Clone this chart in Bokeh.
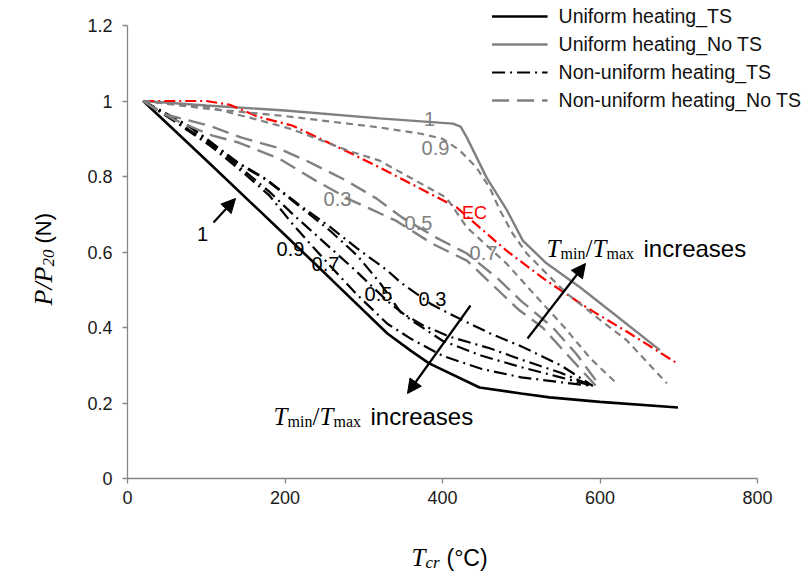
from bokeh.plotting import figure
from bokeh.models import (Range1d, FixedTicker, Label, Arrow, NormalHead,
                          Legend, LegendItem)
from bokeh.embed import file_html
from bokeh.resources import INLINE
import math

# ---------------- data ----------------
# Uniform heating, TS (black solid)
t_uni_ts = [20, 100, 198, 260, 330, 360, 383, 447, 500, 536, 600, 699]
p_uni_ts = [1.0, 0.843, 0.649, 0.525, 0.384, 0.338, 0.305, 0.241, 0.225, 0.215, 0.203, 0.188]

# Uniform heating, No TS (grey solid)
t_uni_nts = [20, 100, 200, 320, 413, 423, 431, 456, 482, 502, 532, 575, 617, 676]
p_uni_nts = [1.0, 0.988, 0.975, 0.954, 0.94, 0.932, 0.903, 0.797, 0.71, 0.63, 0.57, 0.506, 0.437, 0.34]

# EC curve (red dash-dot)
t_ec = [20, 100, 130, 166, 209, 285, 320, 418, 481, 532, 583, 638, 698]
p_ec = [1.0, 1.0, 0.99, 0.958, 0.935, 0.86, 0.824, 0.718, 0.604, 0.524, 0.453, 0.384, 0.305]

# Non-uniform heating, TS (black dash-dot), Tmin/Tmax = 0.9, 0.7, 0.5, 0.3
t_nu_ts_09 = [20, 62, 106, 150, 180, 210, 250, 290, 330, 360, 400, 450, 500, 550, 591]
p_nu_ts_09 = [1.0, 0.943, 0.88, 0.805, 0.75, 0.673, 0.58, 0.49, 0.41, 0.37, 0.325, 0.29, 0.268, 0.255, 0.245]
t_nu_ts_07 = [20, 62, 106, 150, 180, 210, 250, 290, 330, 360, 400, 450, 500, 550, 591]
p_nu_ts_07 = [1.0, 0.946, 0.885, 0.812, 0.76, 0.70, 0.625, 0.55, 0.47, 0.42, 0.365, 0.325, 0.295, 0.268, 0.245]
t_nu_ts_05 = [20, 80, 141, 177, 216, 258, 292, 320, 347, 376, 410, 460, 500, 550, 591]
p_nu_ts_05 = [1.0, 0.93, 0.834, 0.79, 0.725, 0.655, 0.59, 0.52, 0.44, 0.405, 0.375, 0.345, 0.315, 0.28, 0.245]
t_nu_ts_03 = [20, 80, 141, 177, 216, 258, 292, 330, 347, 387, 420, 460, 500, 550, 591]
p_nu_ts_03 = [1.0, 0.932, 0.836, 0.792, 0.728, 0.665, 0.609, 0.551, 0.519, 0.46, 0.425, 0.385, 0.35, 0.30, 0.245]

# Non-uniform heating, No TS (grey dashed), Tmin/Tmax = 0.9, 0.7, 0.5, 0.3
t_nu_nts_09 = [20, 100, 200, 320, 371, 400, 422, 443, 460, 473, 489, 507, 532, 558, 596, 634, 685]
p_nu_nts_09 = [1.0, 0.98, 0.96, 0.93, 0.914, 0.9, 0.869, 0.824, 0.77, 0.71, 0.649, 0.596, 0.543, 0.49, 0.427, 0.366, 0.252]
t_nu_nts_07 = [20, 100, 166, 209, 285, 320, 405, 431, 481, 520, 555, 587, 622]
p_nu_nts_07 = [1.0, 0.985, 0.95, 0.925, 0.865, 0.842, 0.744, 0.665, 0.57, 0.48, 0.40, 0.32, 0.25]
t_nu_nts_05 = [20, 43, 103, 145, 189, 227, 278, 316, 349, 392, 431, 470, 500, 540, 570, 600]
p_nu_nts_05 = [1.0, 0.967, 0.935, 0.903, 0.877, 0.842, 0.789, 0.742, 0.691, 0.638, 0.596, 0.53, 0.47, 0.40, 0.33, 0.245]
t_nu_nts_03 = [20, 60, 107, 141, 192, 239, 285, 341, 387, 431, 470, 498, 527, 562, 595]
p_nu_nts_03 = [1.0, 0.95, 0.909, 0.89, 0.848, 0.789, 0.736, 0.683, 0.622, 0.577, 0.50, 0.445, 0.40, 0.32, 0.245]

x_ticks = [0, 200, 400, 600, 800]
y_ticks = [0, 0.2, 0.4, 0.6, 0.8, 1.0, 1.2]

legend_labels = ["Uniform heating_TS", "Uniform heating_No TS",
                 "Non-uniform heating_TS", "Non-uniform heating_No TS"]

# ---------------- geometry ----------------
W, H = 804, 574
OFF = 0                      # page pixel offset of the canvas
X0P, X1P = 127, 757          # page px of x = 0 and x = 800
Y0P, Y1P = 478, 25           # page px of y = 0 and y = 1.2
sx = (X1P - X0P) / 800.0
sy = (Y0P - Y1P) / 1.2
x_lo = -(X0P - OFF) / sx
x_hi = (W + OFF - X0P) / sx
y_hi = (Y0P - OFF) / sy
y_lo = -(H + OFF - Y0P) / sy

p = figure(width=W, height=H, output_backend="svg", toolbar_location=None,
           x_range=Range1d(x_lo, x_hi), y_range=Range1d(y_lo, y_hi),
           min_border=0, min_border_left=0, min_border_right=0,
           min_border_top=0, min_border_bottom=0)
p.outline_line_color = None
p.xgrid.visible = False
p.ygrid.visible = False
p.background_fill_color = "white"
p.border_fill_color = "white"

AX = "#868686"
for ax in (p.xaxis[0], p.yaxis[0]):
    ax.fixed_location = 0
    ax.axis_line_color = AX
    ax.axis_line_width = 1.3
    ax.major_tick_line_color = AX
    ax.major_tick_line_width = 1.3
    ax.major_tick_in = 0
    ax.major_tick_out = 5
    ax.minor_tick_line_color = None
    ax.major_label_text_font = "Liberation Sans"
    ax.major_label_text_font_size = "18px"
    ax.major_label_text_color = "#1a1a1a"
p.xaxis.bounds = (0, 800)
p.yaxis.bounds = (0, 1.2)
p.xaxis.ticker = FixedTicker(ticks=x_ticks)
p.yaxis.ticker = FixedTicker(ticks=y_ticks)
p.yaxis.major_label_overrides = {0: "0", 1: "1"}
p.xaxis.major_label_standoff = 7
p.yaxis.major_label_standoff = 10

GREY = "#808080"
r_uts = p.line(t_uni_ts, p_uni_ts, line_color="black", line_width=2.6)
r_unts = p.line(t_uni_nts, p_uni_nts, line_color=GREY, line_width=2.4)
p.line(t_ec, p_ec, line_color="#ff0000", line_width=2.2, line_dash="11 4 2 4")

DD = "13 5 2 5"
r_nts = p.line(t_nu_ts_09, p_nu_ts_09, line_color="black", line_width=2.2, line_dash=DD)
p.line(t_nu_ts_07, p_nu_ts_07, line_color="black", line_width=2.2, line_dash=DD)
p.line(t_nu_ts_05, p_nu_ts_05, line_color="black", line_width=2.2, line_dash=DD)
p.line(t_nu_ts_03, p_nu_ts_03, line_color="black", line_width=2.2, line_dash=DD)

p.line(t_nu_nts_09, p_nu_nts_09, line_color=GREY, line_width=2.2, line_dash="7 5")
p.line(t_nu_nts_07, p_nu_nts_07, line_color=GREY, line_width=2.2, line_dash="7 5")
r_nnts = p.line(t_nu_nts_05, p_nu_nts_05, line_color=GREY, line_width=2.4, line_dash="17 8")
p.line(t_nu_nts_03, p_nu_nts_03, line_color=GREY, line_width=2.4, line_dash="17 8")

legend = Legend(items=[LegendItem(label=legend_labels[0], renderers=[r_uts]),
                       LegendItem(label=legend_labels[1], renderers=[r_unts]),
                       LegendItem(label=legend_labels[2], renderers=[r_nts]),
                       LegendItem(label=legend_labels[3], renderers=[r_nnts])],
                location="top_right", padding=6, margin=3, spacing=2,
                glyph_width=56, glyph_height=26, label_height=26,
                label_standoff=11, label_text_font="Liberation Sans",
                label_text_font_size="19.5px", label_text_color="#111111",
                border_line_color=None, background_fill_alpha=0)
p.add_layout(legend, "center")


# ---------------- annotations ----------------
def px2d(px, py):
    # page pixel -> data coordinates
    return ((px - X0P) / sx, (Y0P - py) / sy)


def txt(px, py, text, size, color="black", font="Liberation Sans", style="normal",
        align="center", baseline="middle", angle=0.0):
    x, y = px2d(px, py)
    p.add_layout(Label(x=x, y=y, text=text, text_font_size=f"{size}px",
                       text_color=color, text_font=font, text_font_style=style,
                       text_align=align, text_baseline=baseline, angle=angle))


def arrow(px0, py0, px1, py1):
    x0, y0 = px2d(px0, py0)
    x1, y1 = px2d(px1, py1)
    p.add_layout(Arrow(end=NormalHead(size=14, fill_color="black", line_color="black"),
                       x_start=x0, y_start=y0, x_end=x1, y_end=y1,
                       line_color="black", line_width=2.2))


# curve labels (grey)
txt(429, 118, "1", 20, GREY)
txt(435, 147, "0.9", 20, GREY)
txt(337, 198, "0.3", 20, GREY)
txt(418, 222, "0.5", 20, GREY)
txt(483, 252, "0.7", 20, GREY)
txt(474, 212, "EC", 18, "#ff0000")
# curve labels (black)
txt(202, 233, "1", 20)
txt(290, 248, "0.9", 20)
txt(325, 263, "0.7", 20)
txt(378, 293, "0.5", 20)
txt(432, 298, "0.3", 20)

# arrows
arrow(213, 222, 235, 198)
arrow(470, 305, 407, 393)
arrow(527, 338, 585, 263)

SERIF = "Liberation Serif"


def tratio(x0, base):
    txt(x0, base, "T", 25, font=SERIF, style="italic", align="left", baseline="alphabetic")
    txt(x0 + 14, base + 5, "min", 16, font=SERIF, align="left", baseline="alphabetic")
    txt(x0 + 39, base, "/", 25, font=SERIF, align="left", baseline="alphabetic")
    txt(x0 + 46, base, "T", 25, font=SERIF, style="italic", align="left", baseline="alphabetic")
    txt(x0 + 60, base + 5, "max", 16, font=SERIF, align="left", baseline="alphabetic")
    txt(x0 + 97, base, "increases", 24, align="left", baseline="alphabetic")


tratio(273, 416)
tratio(546, 248)

# axis titles
txt(411, 557, "T", 25, font=SERIF, style="italic", align="left", baseline="alphabetic")
txt(425, 562, "cr", 17, font=SERIF, style="italic", align="left", baseline="alphabetic")
txt(446, 557, "(°C)", 23, align="left", baseline="alphabetic")

A = math.pi / 2
txt(43, 305, "P/P", 26, font=SERIF, style="italic", align="left", baseline="alphabetic", angle=A)
txt(48, 266, "20", 17, font=SERIF, style="italic", align="left", baseline="alphabetic", angle=A)
txt(43, 243, "(N)", 22, align="left", baseline="alphabetic", angle=A)

open("out.html", "w").write(file_html(p, INLINE))
